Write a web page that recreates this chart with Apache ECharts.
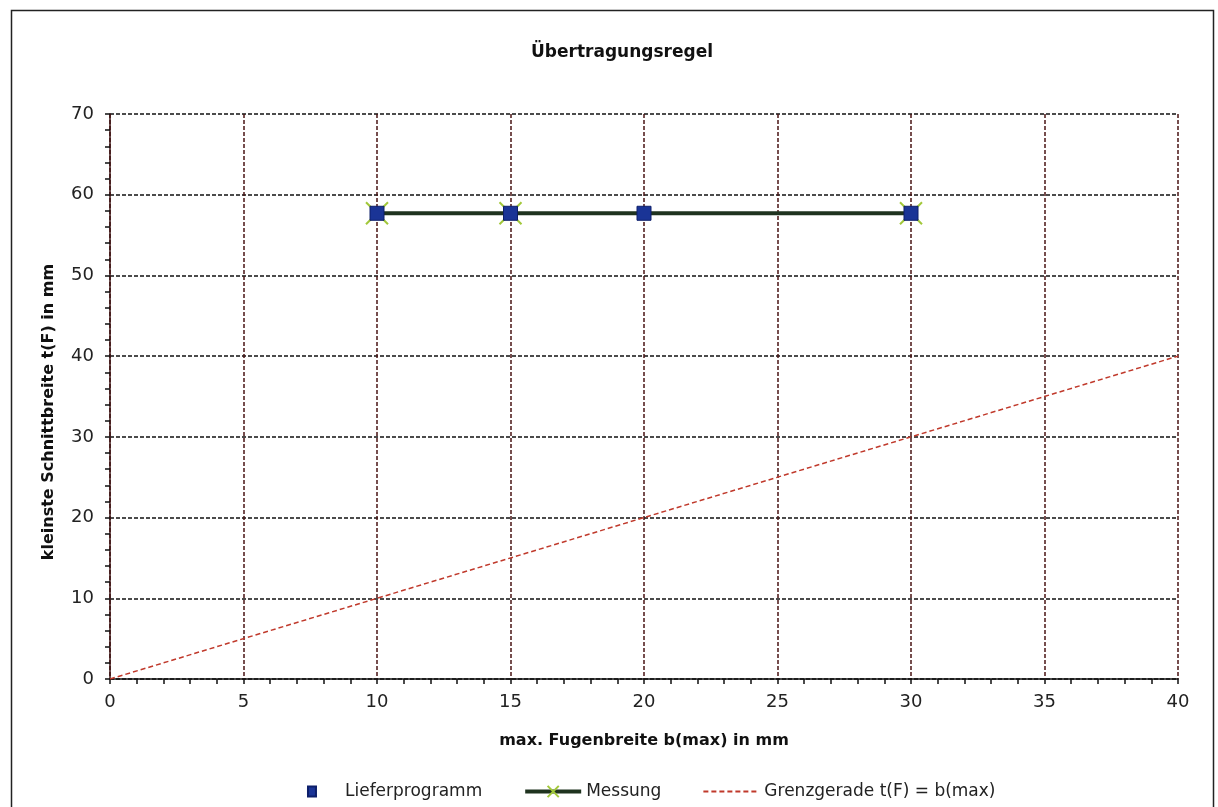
<!DOCTYPE html>
<html>
<head>
<meta charset="utf-8">
<script src="https://cdn.jsdelivr.net/npm/echarts@6/dist/echarts.min.js"></script>
<style>
html,body{margin:0;padding:0;background:#fff;}
#c{width:1218px;height:807px;}
</style>
</head>
<body>
<div id="c"></div>
<script>
const titleText = 'Übertragungsregel';
const xName = 'max. Fugenbreite b(max) in mm';
const yName = 'kleinste Schnittbreite t(F) in mm';
const lieferX = [10, 15, 20, 30];
const lieferY = [57.7, 57.7, 57.7, 57.7];
const messungX = [10, 15, 30];
const messungY = [57.7, 57.7, 57.7];
const grenzX = [0, 40];
const grenzY = [0, 40];

const zip = (a, b) => a.map((v, i) => [v, b[i]]);
const F = 'DejaVu Sans, Verdana, sans-serif';

const chart = echarts.init(document.getElementById('c'));
chart.setOption({
  animation: false,
  backgroundColor: '#fff',
  title: {
    text: titleText, left: 617, top: 39, textAlign: 'center',
    textStyle: {fontFamily: F, fontSize: 17, fontWeight: 'bold', color: '#111'}
  },
  graphic: [
    {
      type: 'rect', shape: {x: 11.5, y: 10.5, width: 1202, height: 820},
      style: {fill: null, stroke: '#222', lineWidth: 1.5}, silent: true, z: -1
    },
    {
      type: 'text', x: 49, y: 412, rotation: Math.PI / 2, silent: true,
      style: {
        text: yName, fill: '#111', align: 'center', verticalAlign: 'middle',
        font: 'bold 16px DejaVu Sans, Verdana, sans-serif'
      }
    }
  ],
  grid: {left: 110, right: 40, top: 114, bottom: 128, containLabel: false},
  legend: {
    top: 778, left: 278, itemGap: 41, itemWidth: 56, itemHeight: 14,
    textStyle: {fontFamily: F, fontSize: 17, color: '#222'},
    data: [
      {name: 'Lieferprogramm', icon: 'path://M0,0L0,0.01M56,14L56,14.01M24,2h8v10h-8z'},
      {name: 'Messung', lineStyle: {width: 4}},
      {name: 'Grenzgerade t(F) = b(max)', itemStyle: {opacity: 0}}
    ]
  },
  xAxis: {
    type: 'value', min: 0, max: 40, interval: 5,
    name: xName, nameLocation: 'middle', nameGap: 54,
    nameTextStyle: {fontFamily: F, fontSize: 16, fontWeight: 'bold', color: '#111'},
    axisLine: {onZero: false, lineStyle: {color: '#111', width: 1.5}},
    axisTick: {show: true, inside: false, length: 5, lineStyle: {color: '#111', width: 1.5}},
    minorTick: {show: true, splitNumber: 5, length: 5, lineStyle: {color: '#111', width: 1.5}},
    axisLabel: {fontFamily: F, fontSize: 18, color: '#222', margin: 14},
    splitLine: {show: true, lineStyle: {color: '#4a1515', type: [4, 2], width: 1.5}}
  },
  yAxis: {
    type: 'value', min: 0, max: 70, interval: 10,
    axisLine: {show: true, onZero: false, lineStyle: {color: '#3a1010', width: 1.5}},
    axisTick: {show: true, length: 5, lineStyle: {color: '#111', width: 1.5}},
    minorTick: {show: true, splitNumber: 5, length: 5, lineStyle: {color: '#111', width: 1.5}},
    axisLabel: {fontFamily: F, fontSize: 18, color: '#222', margin: 16},
    splitLine: {show: true, lineStyle: {color: '#111', type: [4, 2], width: 1.5}}
  },
  series: [
    {
      name: 'Grenzgerade t(F) = b(max)', type: 'line', data: zip(grenzX, grenzY),
      symbol: 'none', lineStyle: {color: '#c0392b', type: [5, 3], width: 1.5},
      itemStyle: {color: '#c0392b'}, z: 3
    },
    {
      name: 'Messung', type: 'line', data: zip(messungX, messungY),
      symbol: 'path://M0,0 L10,10 M10,0 L0,10', symbolSize: 22,
      lineStyle: {color: '#1f331f', width: 4},
      itemStyle: {color: '#9acd32', borderColor: '#a2c83a', borderWidth: 2},
      z: 4
    },
    {
      name: 'Lieferprogramm', type: 'scatter', data: zip(lieferX, lieferY),
      symbol: 'rect', symbolSize: 14,
      itemStyle: {color: '#1a3496', borderColor: '#0d1f6a', borderWidth: 1, opacity: 1},
      z: 5
    }
  ]
});
</script>
</body>
</html>
